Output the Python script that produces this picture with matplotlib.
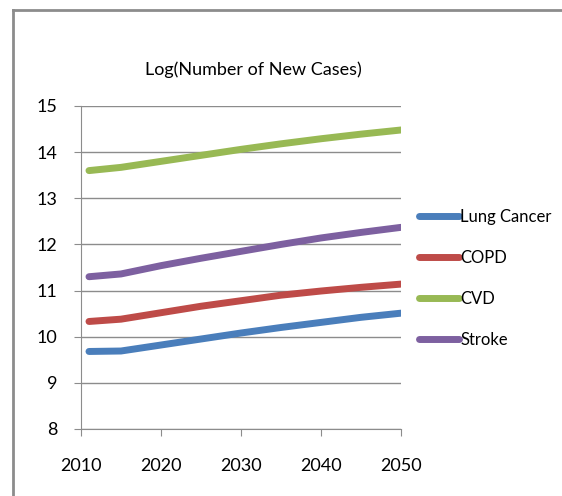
import matplotlib
matplotlib.use('Agg')
import matplotlib.pyplot as plt
from matplotlib.lines import Line2D

plt.rcParams['font.family'] = ['Lato', 'DejaVu Sans']

# Données
years = [2011, 2015, 2020, 2025, 2030, 2035, 2040, 2045, 2050]
lung_cancer = [9.68, 9.69, 9.82, 9.95, 10.08, 10.20, 10.31, 10.42, 10.51]
copd = [10.33, 10.38, 10.52, 10.66, 10.78, 10.90, 10.99, 11.07, 11.14]
cvd = [13.60, 13.67, 13.80, 13.93, 14.06, 14.18, 14.29, 14.39, 14.48]
stroke = [11.30, 11.36, 11.54, 11.70, 11.85, 12.00, 12.14, 12.26, 12.37]

series_names = ['Lung Cancer', 'COPD', 'CVD', 'Stroke']
colors = ['#4A7EBB', '#BE4B48', '#98B954', '#7D60A0']
x_ticks = [2010, 2020, 2030, 2040, 2050]
y_ticks = [8, 9, 10, 11, 12, 13, 14, 15]

fig = plt.figure(figsize=(5.62, 4.96), dpi=100)
ax = fig.add_axes([0.1441, 0.1351, 0.5694, 0.6512])

for vals, name, c in zip([lung_cancer, copd, cvd, stroke], series_names, colors):
    ax.plot(years, vals, color=c, lw=5, solid_capstyle='round', label=name)

ax.set_xlim(2010, 2050)
ax.set_ylim(8, 15)
ax.set_xticks(x_ticks)
ax.set_yticks(y_ticks)
ax.grid(axis='y', color='#8c8c8c', lw=1)
ax.set_axisbelow(True)
for s in ['top', 'right']:
    ax.spines[s].set_visible(False)
for s in ['left', 'bottom']:
    ax.spines[s].set_color('#8c8c8c')
ax.tick_params(axis='both', colors='#8c8c8c', labelcolor='black', labelsize=13, length=5)
ax.tick_params(axis='x', pad=16)
ax.tick_params(axis='y', pad=12)

ax.set_title('Log(Number of New Cases)', fontsize=13, pad=22, x=0.54)

ax.legend(loc='center left', bbox_to_anchor=(1.024, 0.465), frameon=False,
          fontsize=12, handlelength=2.4, handletextpad=0.1, labelspacing=1.5,
          borderaxespad=0.2)

# cadre du graphique
fig.add_artist(Line2D([0.023, 1.0], [0.98, 0.98], color='#8c8c8c', lw=2))
fig.add_artist(Line2D([0.023, 0.023], [0.0, 0.98], color='#8c8c8c', lw=2))

fig.savefig('out.png', dpi=100)
